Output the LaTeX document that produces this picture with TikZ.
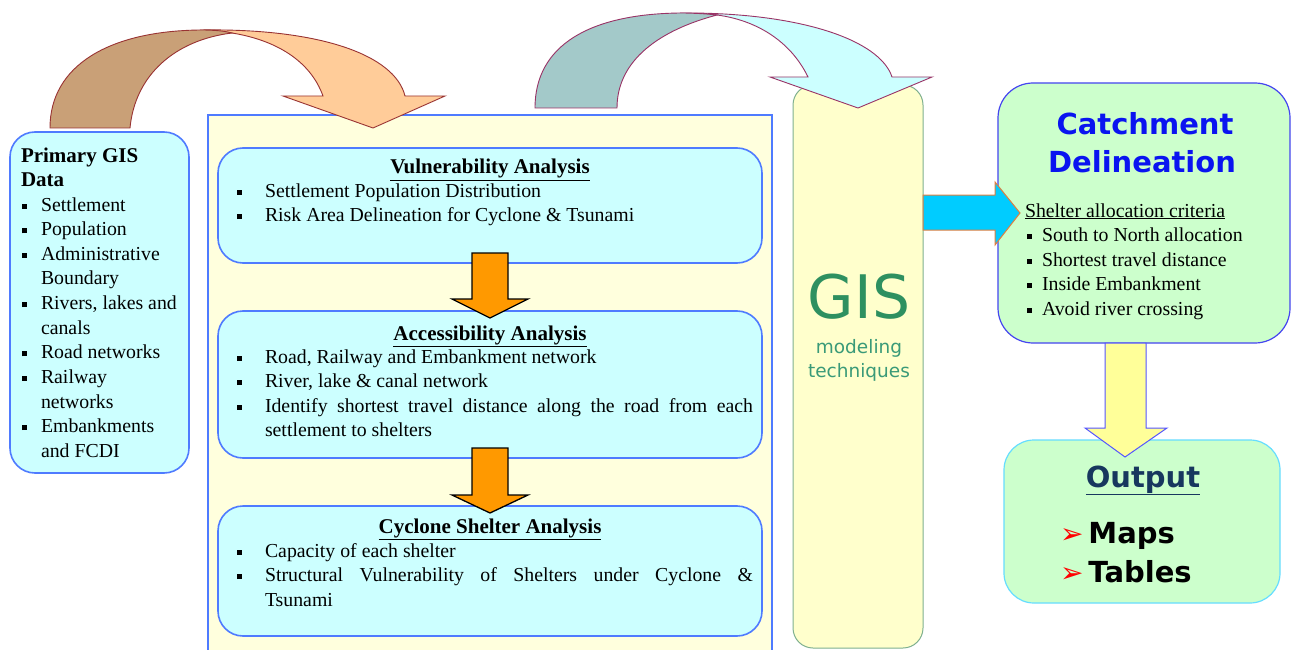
\documentclass[tikz,border=0pt]{standalone}
\usepackage{fontspec}
\setmainfont{Liberation Serif}
\newfontfamily\dejavu{DejaVu Sans}
\usetikzlibrary{calc}
\definecolor{cyanfill}{HTML}{CCFFFF}
\definecolor{bluebord}{HTML}{4F7BFF}
\definecolor{ylwfill}{HTML}{FFFFDD}
\definecolor{gisfill}{HTML}{FFFFCC}
\definecolor{gisbord}{HTML}{7FB08F}
\definecolor{gisgreen}{HTML}{2E9060}
\definecolor{gisgreenb}{HTML}{3A9A78}
\definecolor{greenfill}{HTML}{CCFFCC}
\definecolor{catbord}{HTML}{4545F0}
\definecolor{cattext}{HTML}{0A14F0}
\definecolor{outbord}{HTML}{66DDFF}
\definecolor{outnavy}{HTML}{17375E}
\definecolor{orangefill}{HTML}{FF9900}
\definecolor{skyfill}{HTML}{00CCFF}
\definecolor{skybord}{HTML}{E07F3F}
\definecolor{paleyellow}{HTML}{FFFF99}
\definecolor{arrowblue}{HTML}{5555FF}
\definecolor{tanfill}{HTML}{C9A077}
\definecolor{peachfill}{HTML}{FFCC99}
\definecolor{brownbord}{HTML}{993333}
\definecolor{tealfill}{HTML}{A3C9C9}
\definecolor{mauvebord}{HTML}{993366}
\newcommand\bodyfont{\fontsize{19.8}{24.6}\selectfont}
\newcommand\ttlfont{\fontsize{21}{24.6}\selectfont\bfseries}
\newcommand\catfont{\dejavu\bfseries\fontsize{29}{29}\selectfont}
\newcommand\sqbul{\rule[2.5pt]{5pt}{5pt}}
\newcommand\redarr{\textcolor{red}{\dejavu\mdseries\fontsize{28}{28}\selectfont ➢}}
\tikzset{
  panel/.style={rectangle, anchor=north west, inner sep=0pt, outer sep=0pt},
  cyanbox/.style={panel, draw=bluebord, line width=1.6pt, fill=cyanfill, rounded corners=25pt},
  bigbox/.style={panel, draw=bluebord, line width=1.8pt, fill=ylwfill},
  giscol/.style={panel, draw=gisbord, line width=1pt, fill=gisfill, rounded corners=20pt},
  catbox/.style={panel, draw=catbord, line width=1.2pt, fill=greenfill, rounded corners=35pt},
  outbox/.style={panel, draw=outbord, line width=1.2pt, fill=greenfill, rounded corners=30pt},
  txt/.style={inner sep=0pt, outer sep=0pt},
  orarrow/.style={fill=orangefill, draw=black, line width=1.3pt, line join=miter},
  skyarrow/.style={fill=skyfill, draw=skybord, line width=1pt},
  ylwarrow/.style={fill=paleyellow, draw=arrowblue, line width=1pt},
  darkband/.style={fill=tanfill, draw=brownbord, line width=0.9pt},
  lightband/.style={fill=peachfill, draw=brownbord, line width=0.9pt},
  darkbandb/.style={fill=tealfill, draw=mauvebord, line width=0.9pt},
  lightbandb/.style={fill=cyanfill, draw=mauvebord, line width=0.9pt},
}
\begin{document}
\begin{tikzpicture}[x=1pt,y=-1pt]
\useasboundingbox (0,0) rectangle (1293,650);
\fill[white] (0,0) rectangle (1293,650);

% ---------- left box ----------
\node[cyanbox, minimum width=179pt, minimum height=341pt] (prim) at (10,132) {};
\node[txt, anchor=base west, font=\bodyfont] (primtxt) at (21,162) {%
\begin{tabular}[t]{@{}l@{\hspace{14pt}}l@{}}
\multicolumn{2}{@{}l@{}}{\ttlfont Primary GIS}\\
\multicolumn{2}{@{}l@{}}{\ttlfont Data}\\
\hspace{1pt}\sqbul & Settlement\\
\hspace{1pt}\sqbul & Population\\
\hspace{1pt}\sqbul & Administrative\\
 & Boundary\\
\hspace{1pt}\sqbul & Rivers, lakes and\\
 & canals\\
\hspace{1pt}\sqbul & Road networks\\
\hspace{1pt}\sqbul & Railway\\
 & networks\\
\hspace{1pt}\sqbul & Embankments\\
 & and FCDI
\end{tabular}};

% ---------- middle big box ----------
\node[bigbox, minimum width=564pt, minimum height=545pt] (big) at (208,115) {};
\node[cyanbox, minimum width=544pt, minimum height=115pt] (vul) at (218,148) {};
\node[cyanbox, minimum width=544pt, minimum height=147pt] (acc) at (218,311) {};
\node[cyanbox, minimum width=544pt, minimum height=130pt] (cyc) at (218,506) {};

\node[txt, anchor=base, font=\ttlfont] (vult) at (490,174) {\underline{Vulnerability Analysis}};
\node[txt, anchor=base west, font=\bodyfont] (vull) at (237,197) {%
\begin{tabular}[t]{@{}l@{\hspace{23pt}}p{488pt}@{}}
\sqbul & Settlement Population Distribution\\
\sqbul & Risk Area Delineation for Cyclone \& Tsunami
\end{tabular}};

\node[txt, anchor=base, font=\ttlfont] (acct) at (490,340) {\underline{Accessibility Analysis}};
\node[txt, anchor=base west, font=\bodyfont] (accl) at (237,363) {%
\begin{tabular}[t]{@{}l@{\hspace{23pt}}p{488pt}@{}}
\sqbul & Road, Railway and Embankment network\\
\sqbul & River, lake \& canal network\\
\sqbul & Identify shortest travel distance along the road from each\linebreak settlement to shelters
\end{tabular}};

\node[txt, anchor=base, font=\ttlfont] (cyct) at (490,533) {\underline{Cyclone Shelter Analysis}};
\node[txt, anchor=base west, font=\bodyfont] (cycl) at (237,557) {%
\begin{tabular}[t]{@{}l@{\hspace{23pt}}p{488pt}@{}}
\sqbul & Capacity of each shelter\\
\sqbul & Structural Vulnerability of Shelters under Cyclone \&\linebreak Tsunami
\end{tabular}};

% orange block arrows
\draw[orarrow] ($(vul.south)+(-18,-10)$) -- ($(vul.south)+(18,-10)$) -- ($(acc.north)+(18,-12)$) -- ($(acc.north)+(38,-12)$) -- ($(acc.north)+(0,7)$) -- ($(acc.north)+(-38,-12)$) -- ($(acc.north)+(-18,-12)$) -- cycle;
\draw[orarrow] ($(acc.south)+(-18,-10)$) -- ($(acc.south)+(18,-10)$) -- ($(cyc.north)+(18,-11)$) -- ($(cyc.north)+(38,-11)$) -- ($(cyc.north)+(0,7)$) -- ($(cyc.north)+(-38,-11)$) -- ($(cyc.north)+(-18,-11)$) -- cycle;

% ---------- GIS column ----------
\node[giscol, minimum width=130pt, minimum height=563pt] (gisc) at (793,85) {};
\node[txt, anchor=base, font=\dejavu\fontsize{60}{60}\selectfont, text=gisgreen] (gis) at (859,318) {GIS};
\node[txt, anchor=base, font=\dejavu\fontsize{18.5}{24}\selectfont, text=gisgreenb] (gmod) at (859,353) {modeling};
\node[txt, anchor=base, font=\dejavu\fontsize{18.5}{24}\selectfont, text=gisgreenb] (gtech) at (859,377) {techniques};

% ---------- catchment ----------
\node[catbox, minimum width=292pt, minimum height=260pt] (catch) at (998,83) {};
\node[txt, anchor=base, font=\catfont, text=cattext] (cat1) at (1145,135) {Catchment};
\node[txt, anchor=base, font=\catfont, text=cattext] (cat2) at (1142,172) {Delineation};
\node[txt, anchor=base west, font=\bodyfont] (crit) at (1025,217) {%
\begin{tabular}[t]{@{}l@{}l@{}}
\multicolumn{2}{@{}l@{}}{\underline{Shelter allocation criteria}}\\
\hspace{2pt}\sqbul\hspace{10pt} & South to North allocation\\
\hspace{2pt}\sqbul\hspace{10pt} & Shortest travel distance\\
\hspace{2pt}\sqbul\hspace{10pt} & Inside Embankment\\
\hspace{2pt}\sqbul\hspace{10pt} & Avoid river crossing
\end{tabular}};

% ---------- output ----------
\node[outbox, minimum width=276pt, minimum height=163pt] (outp) at (1004,440) {};
\node[txt, anchor=base, font=\catfont, text=outnavy] (outt) at (1143,487) {\underline{Output}};
\node[txt, anchor=base west, font=\catfont, text=black] (maps) at (1060,543) {\redarr\hspace{5pt}Maps};
\node[txt, anchor=base west, font=\catfont, text=black] (tabs) at (1060,582) {\redarr\hspace{5pt}Tables};

% sky arrow GIS -> catchment
\draw[skyarrow] ($(gisc.north east)+(0,110)$) -- (995,195) -- (995,182) -- (1020,213) -- (995,245) -- (995,230) -- ($(gisc.north east)+(0,145)$) -- cycle;

% yellow arrow catchment -> output
\draw[ylwarrow] ($(catch.south)+(-39,0)$) -- ($(catch.south)+(2,0)$) -- ($(outp.north)+(4,-12)$) -- ($(outp.north)+(25,-12)$) -- ($(outp.north)+(-17,17)$) -- ($(outp.north)+(-57,-12)$) -- ($(outp.north)+(-37,-12)$) -- cycle;

% ---------- curved arrow 1 (primary data -> analysis) ----------
\draw[lightband] (200,30) .. controls (320,28) and (395,55) .. (405,96) -- (445,96) -- (373,128) -- (283,96) -- (323,96) .. controls (310,60) and (275,40) .. (232,33) -- cycle;
\draw[darkband] (50,128) .. controls (50,65) and (110,31) .. (200,30) .. controls (215,30) and (225,31) .. (232,33) .. controls (175,40) and (135,75) .. (130,128) -- cycle;

% ---------- curved arrow 2 (analysis -> GIS) ----------
\draw[lightbandb] (680,13) .. controls (800,12) and (880,40) .. (892,77) -- (932,77) -- (858,108) -- (770,77) -- (808,77) .. controls (790,40) and (755,20) .. (717,15) -- cycle;
\draw[darkbandb] (535,108) .. controls (535,45) and (590,14) .. (680,13) .. controls (695,13) and (708,14) .. (717,15) .. controls (660,30) and (617,60) .. (617,108) -- cycle;
\end{tikzpicture}
\end{document}
